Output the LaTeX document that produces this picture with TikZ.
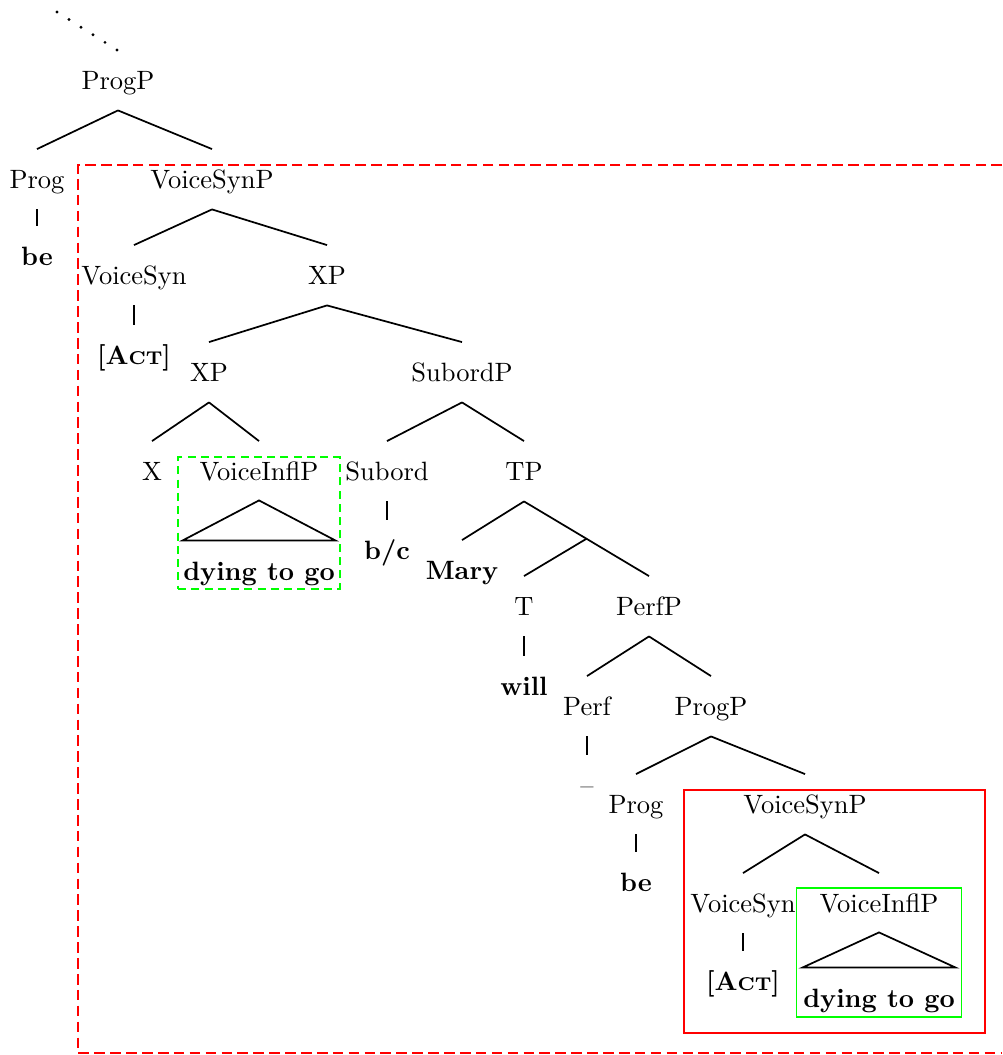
\documentclass[tikz,border=0pt]{standalone}
\usepackage{amsmath,amssymb}
\usetikzlibrary{calc}
\usetikzlibrary{fit}

\newcommand{\actfeat}{\textbf{[A{\scriptsize CT}]}}

\begin{document}
\begin{tikzpicture}[x=0.3774pt,y=-0.3774pt, line width=0.65pt,
    lab/.style={inner sep=0pt, text height=1.6ex, text depth=.25ex},
    lf/.style={lab, font=\bfseries}]
      \useasboundingbox (0,0) rectangle (1002,1055);

      % upper part
      \coordinate (dotstart) at (57,12);
      \coordinate (dotend) at (117,50);
      \draw[line width=1.2pt, line cap=round, dash pattern=on 0pt off 5.36pt] (dotstart) -- (dotend);

      \node[lab] (progp) at (118,82) {ProgP};
      \node[lab] (prog) at (37,181) {Prog};
      \node[lf] (be) at (37,258) {be};
      \node[lab] (vsp) at (212,181) {VoiceSynP};
      \node[lab] (vs) at (134,277) {VoiceSyn};
      \node[lab] (act) at (134,357) {\actfeat};
      \node[lab] (xp) at (327,277) {XP};
      \node[lab] (xpa) at (209,374) {XP};
      \node[lab] (subp) at (462,374) {SubordP};
      \node[lab] (x) at (152,473) {X};
      \node[lab] (vip) at (259,473) {VoiceInflP};
      \node[lf] (dtg) at (259,573) {dying to go};
      \node[lab] (sub) at (387,473) {Subord};
      \node[lf] (bc) at (387,552) {b/c};
      \node[lab] (tp) at (524,473) {TP};
      \node[lf] (mary) at (462,572) {Mary};
      \node[lab] (t) at (524,608) {T};
      \node[lf] (will) at (524,688) {will};
      \node[lab] (perfp) at (649,608) {PerfP};
      \node[lab] (perf) at (587,708) {Perf};
      \node[lab] (gap) at (587,787) {--};

      % lower part
      \node[lab] (progpb) at (711,708) {ProgP};
      \node[lab] (progb) at (636,806) {Prog};
      \node[lf] (beb) at (636,884) {be};
      \node[lab] (vspb) at (805,806) {VoiceSynP};
      \node[lab] (vsb) at (743,905) {VoiceSyn};
      \node[lab] (actb) at (743,983) {\actfeat};
      \node[lab] (vipb) at (879,905) {VoiceInflP};
      \node[lf] (dtgb) at (879,1000) {dying to go};

      \foreach \a/\b in {progp/prog, progp/vsp, prog/be, vsp/vs, vsp/xp, vs/act, xp/xpa, xp/subp,
          xpa/x, xpa/vip, subp/sub, subp/tp, sub/bc, tp/mary, tp/perfp, t/will, perfp/perf,
          perfp/progpb, perf/gap, progpb/progb, progpb/vspb, progb/beb, vspb/vsb, vspb/vipb, vsb/actb}
        \draw ($(\a.south)+(0,17)$) -- ($(\b.north)+(0,-20.5)$);

      \coordinate (tpmid) at ($($(tp.south)+(0,17)$)!.5!($(perfp.north)+(0,-20.5)$)$);
      \draw (tpmid) -- ($(t.north)+(0,-20.5)$);

      \draw ($(vip.south)+(0,16)$) -- ($(dtg.north west)+(0,-21)$) -- ($(dtg.north east)+(0,-21)$) -- cycle;
      \draw ($(vipb.south)+(0,16)$) -- ($(dtgb.north west)+(0,-21)$) -- ($(dtgb.north east)+(0,-21)$) -- cycle;

      % boxes
      \node[draw=green, dash pattern=on 3pt off 2pt, inner sep=1.6pt, fit=(vip)(dtg)] (gbox) {};
      \node[draw=green, inner sep=2.2pt, fit=(vipb)(dtgb)] (gboxb) {};
      \draw[red] (684,790) rectangle (985,1033);
      \draw[red, dash pattern=on 4pt off 2pt] (1002,165) -- (78,165) -- (78,1053) -- (1002,1053);
    \end{tikzpicture}
\end{document}
